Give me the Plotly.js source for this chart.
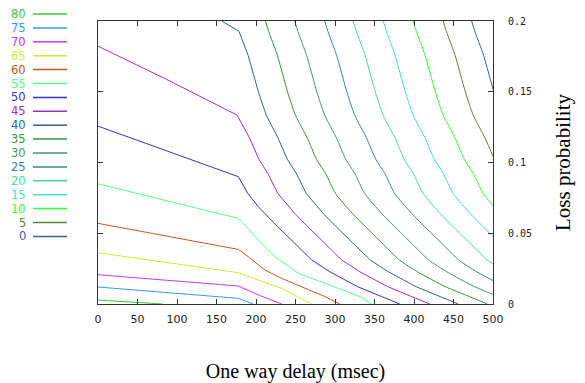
<!DOCTYPE html>
<html><head><meta charset="utf-8">
<script src="https://cdn.plot.ly/plotly-3.0.1.min.js"></script>
<style>html,body{margin:0;padding:0;background:#fff}#chart{width:585px;height:383px}</style>
</head><body><div id="chart"></div>
<script>
// contour levels and their colours (legend order, top to bottom)
const levels = [80, 75, 70, 65, 60, 55, 50, 45, 40, 35, 30, 25, 20, 15, 10, 5, 0];
const colors = ['#33cc33', '#3399ff', '#cc33ff', '#ccee33', '#cc5522', '#55ff88', '#3333cc', '#9933cc',
                '#336688', '#339933', '#449966', '#338899', '#44dd99', '#44dddd', '#33ff33', '#558833', '#336699'];

// tick values
const xTicks = [0, 50, 100, 150, 200, 250, 300, 350, 400, 450, 500];
const yTicks = [0, 0.05, 0.1, 0.15, 0.2];
const yTickText = ['0', '0.05', '0.1', '0.15', '0.2'];

// each contour line: one way delay (msec) and loss probability
const delay80 = [0, 40, 82];
const loss80  = [0.0028, 0.0016, 0];
const delay75 = [0, 90, 177.6, 196.6];
const loss75  = [0.012, 0.0081, 0.004, 0];
const delay70 = [0, 90, 177.6, 203, 232.5];
const loss70  = [0.0207, 0.0168, 0.0127, 0.0064, 0];
const delay65 = [0, 90, 177.6, 203, 232.5, 250, 270.5];
const loss65  = [0.0362, 0.0293, 0.0221, 0.0169, 0.0111, 0.006, 0];
const delay60 = [0, 90, 177.6, 190.2, 211.4, 232.5, 262, 287.3, 306];
const loss60  = [0.057, 0.0477, 0.0386, 0.0334, 0.024, 0.0181, 0.0111, 0.0052, 0];
const delay55 = [0, 90, 177.5, 190, 203, 224, 253.5, 287.3, 310, 331.6, 346.4];
const loss55  = [0.0849, 0.0726, 0.0605, 0.0534, 0.0452, 0.0334, 0.0217, 0.0146, 0.0098, 0.0052, 0];
const delay50 = [0, 90, 177.6, 189.6, 203, 227.6, 249, 270.6, 293.4, 328.8, 359.2, 382];
const loss50  = [0.1257, 0.1078, 0.09, 0.0781, 0.0687, 0.0546, 0.0429, 0.0311, 0.0228, 0.0122, 0.0052, 0];
const delay45 = [0, 87, 176, 192, 203.5, 215, 227.6, 249, 265.6, 287, 308.6, 331.4, 366.8, 397.2, 420];
const loss45  = [0.1822, 0.1587, 0.1335, 0.1172, 0.1024, 0.0923, 0.0781, 0.064, 0.0546, 0.0429, 0.0311, 0.0228, 0.0122, 0.0052, 0];
const delay40 = [156.6, 178.5, 190, 203, 213, 228, 239.5, 251, 263.6, 285, 301.6, 323, 344.6, 367.4, 402.8, 433.2, 456];
const loss40  = [0.2, 0.1927, 0.1758, 0.1499, 0.1334, 0.1172, 0.1024, 0.0923, 0.0781, 0.064, 0.0546, 0.0429, 0.0311, 0.0228, 0.0122, 0.0052, 0];
const delay35 = [212, 216, 227, 240, 250, 265, 276.5, 288, 300.6, 322, 338.6, 360, 381.6, 404.4, 439.8, 470.2, 493];
const loss35  = [0.2, 0.1927, 0.1758, 0.1499, 0.1334, 0.1172, 0.1024, 0.0923, 0.0781, 0.064, 0.0546, 0.0429, 0.0311, 0.0228, 0.0122, 0.0052, 0];
const delay30 = [249, 253, 264, 277, 287, 302, 313.5, 325, 337.6, 359, 375.6, 397, 418.6, 441.4, 476.8, 507.2];
const loss30  = [0.2, 0.1927, 0.1758, 0.1499, 0.1334, 0.1172, 0.1024, 0.0923, 0.0781, 0.064, 0.0546, 0.0429, 0.0311, 0.0228, 0.0122, 0.0052];
const delay25 = [287, 291, 302, 315, 325, 340, 351.5, 363, 375.6, 397, 413.6, 435, 456.6, 479.4, 514.8];
const loss25  = [0.2, 0.1927, 0.1758, 0.1499, 0.1334, 0.1172, 0.1024, 0.0923, 0.0781, 0.064, 0.0546, 0.0429, 0.0311, 0.0228, 0.0122];
const delay20 = [323, 327, 338, 351, 361, 376, 387.5, 399, 411.6, 433, 449.6, 471, 492.6, 515.4];
const loss20  = [0.2, 0.1927, 0.1758, 0.1499, 0.1334, 0.1172, 0.1024, 0.0923, 0.0781, 0.064, 0.0546, 0.0429, 0.0311, 0.0228];
const delay15 = [361, 365, 376, 389, 399, 414, 425.5, 437, 449.6, 471, 487.6, 509];
const loss15  = [0.2, 0.1927, 0.1758, 0.1499, 0.1334, 0.1172, 0.1024, 0.0923, 0.0781, 0.064, 0.0546, 0.0429];
const delay10 = [399, 403, 414, 427, 437, 452, 463.5, 475, 487.6, 509];
const loss10  = [0.2, 0.1927, 0.1758, 0.1499, 0.1334, 0.1172, 0.1024, 0.0923, 0.0781, 0.064];
const delay5  = [437, 441, 452, 465, 475, 490, 501.5];
const loss5   = [0.2, 0.1927, 0.1758, 0.1499, 0.1334, 0.1172, 0.1024];
const delay0  = [473, 477, 488, 501];
const loss0   = [0.2, 0.1927, 0.1758, 0.1499];

const delays = [delay80, delay75, delay70, delay65, delay60, delay55, delay50, delay45, delay40,
                delay35, delay30, delay25, delay20, delay15, delay10, delay5, delay0];
const losses = [loss80, loss75, loss70, loss65, loss60, loss55, loss50, loss45, loss40,
                loss35, loss30, loss25, loss20, loss15, loss10, loss5, loss0];

const traces = levels.map((lv, i) => ({
  type: 'scatter', mode: 'lines', name: String(lv),
  x: delays[i], y: losses[i],
  line: lv <= 35 ? {color: colors[i], width: 1, shape: 'spline', smoothing: 0.6}
                 : {color: colors[i], width: 1},
  hoverinfo: 'skip'
}));

// plot area geometry (pixels) for the hand-made legend on the left
const M = {l: 98, r: 92, t: 21, b: 79};
const W = 585 - M.l - M.r, H = 383 - M.t - M.b;
const px = v => (v - M.l) / W;
const py = v => (383 - M.b - v) / H;

const annotations = [], shapes = [];
levels.forEach((lv, i) => {
  const rowY = 14 + i * 13.9;
  annotations.push({
    xref: 'paper', yref: 'paper', x: px(28), y: py(rowY), xanchor: 'right', yanchor: 'middle',
    text: String(lv), showarrow: false, font: {family: 'DejaVu Sans', size: 11.5, color: colors[i]}
  });
  shapes.push({
    type: 'line', xref: 'paper', yref: 'paper', x0: px(33), x1: px(67), y0: py(rowY), y1: py(rowY),
    line: {color: colors[i], width: 1.5}
  });
});

const axisCommon = {
  showgrid: false, zeroline: false, showline: true, linecolor: '#333', linewidth: 1,
  mirror: 'ticks', ticks: 'inside', ticklen: 5, tickcolor: '#333', tickwidth: 1
};

const layout = {
  width: 585, height: 383,
  margin: M,
  paper_bgcolor: '#fff', plot_bgcolor: '#fff',
  showlegend: false,
  xaxis: Object.assign({}, axisCommon, {
    range: [0, 500], tickvals: xTicks, ticktext: xTicks.map(String),
    tickfont: {family: 'DejaVu Sans', size: 11, color: '#222'},
    ticklabelstandoff: 5,
    title: {text: 'One way delay (msec)', font: {family: 'Liberation Serif', size: 20, color: '#000'}, standoff: 40}
  }),
  yaxis: Object.assign({}, axisCommon, {
    range: [0, 0.2], side: 'right', tickvals: yTicks, ticktext: yTickText,
    tickfont: {family: 'DejaVu Sans Mono', size: 10, color: '#222'},
    ticklabelstandoff: 12,
    title: {text: 'Loss probability', font: {family: 'Liberation Serif', size: 21, color: '#000'}, standoff: 24}
  }),
  annotations: annotations,
  shapes: shapes
};

Plotly.newPlot('chart', traces, layout, {staticPlot: true, displayModeBar: false});
</script>
</body></html>
